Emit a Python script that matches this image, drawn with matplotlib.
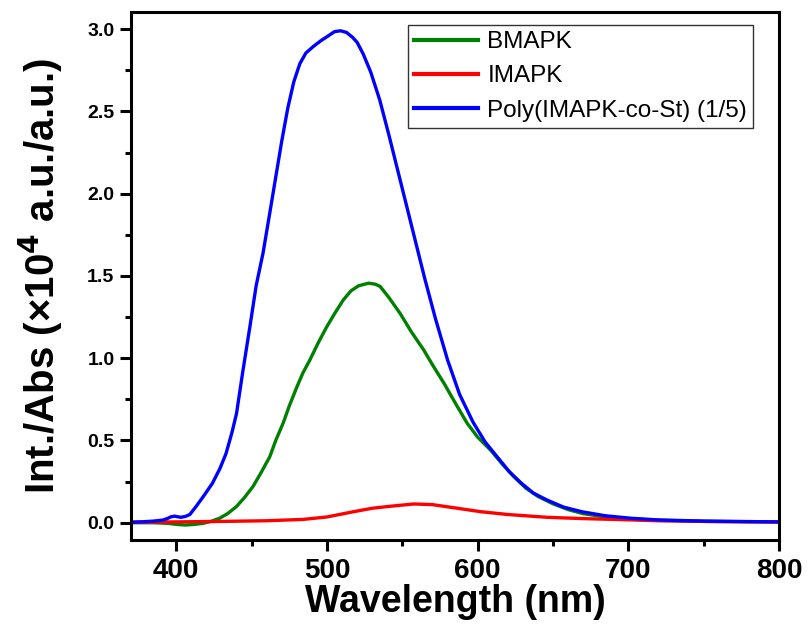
import matplotlib
matplotlib.use("Agg")
import matplotlib.pyplot as plt
from matplotlib.ticker import MultipleLocator, FormatStrFormatter

plt.rcParams['font.family'] = ['Liberation Sans', 'DejaVu Sans']

# Poly(IMAPK-co-St) (1/5)
blue_x = [370, 378, 385, 391, 394, 396.5, 399, 401, 403, 406, 409, 413, 418, 424, 429, 433, 437, 440,
          444, 449, 453, 457.6, 462, 466, 470, 474, 478, 482, 486, 491, 496, 501, 505, 509, 513,
          517, 520, 524, 529, 535, 541, 547, 553, 559, 565, 572, 580, 588, 597, 605, 613,
          621, 629, 637, 646, 657, 669, 685, 702, 720, 750, 800]
blue_y = [0.003, 0.006, 0.01, 0.016, 0.025, 0.036, 0.04, 0.036, 0.033, 0.038, 0.05, 0.097, 0.16, 0.24,
          0.33, 0.42, 0.55, 0.665, 0.91, 1.2, 1.44, 1.64, 1.88, 2.1, 2.32, 2.52, 2.68, 2.79, 2.855,
          2.895, 2.93, 2.96, 2.985, 2.99, 2.98, 2.95, 2.92, 2.85, 2.74, 2.57, 2.36, 2.14, 1.92, 1.70,
          1.48, 1.24, 0.99, 0.78, 0.61, 0.49, 0.40, 0.31, 0.24, 0.18, 0.138, 0.095, 0.067, 0.042,
          0.027, 0.017, 0.01, 0.005]

# BMAPK
green_x = [370, 385, 395, 400, 406, 412, 417.6, 423, 428.7, 434, 439.8, 445, 450.9, 456, 462, 466,
           470.9, 475, 479.8, 484, 488.7, 494, 499.8, 505, 510.9, 516, 521, 527.6, 532, 535.3, 541,
           548.7, 556, 564.2, 570, 577.5, 585, 593, 600, 608.7, 616, 624, 632, 640, 650, 660, 670,
           685, 700, 720, 750, 800]
green_y = [0.0, 0.0, -0.004, -0.01, -0.014, -0.01, -0.004, 0.008, 0.027, 0.055, 0.097, 0.15, 0.22,
           0.30, 0.40, 0.50, 0.605, 0.71, 0.82, 0.91, 0.99, 1.09, 1.19, 1.27, 1.355, 1.41, 1.44,
           1.456, 1.45, 1.436, 1.37, 1.27, 1.16, 1.05, 0.96, 0.85, 0.73, 0.605, 0.52, 0.44, 0.36,
           0.28, 0.21, 0.16, 0.115, 0.08, 0.055, 0.035, 0.025, 0.015, 0.008, 0.005]

# IMAPK
red_x = [370, 400, 430, 460, 484, 500, 517.6, 530, 542, 557.6, 570, 585, 602, 620, 646, 670, 691,
         720, 760, 800]
red_y = [0.003, 0.005, 0.008, 0.012, 0.02, 0.035, 0.067, 0.088, 0.1, 0.114, 0.11, 0.09, 0.067, 0.05,
         0.033, 0.025, 0.02, 0.012, 0.007, 0.005]

labels = ["BMAPK", "IMAPK", "Poly(IMAPK-co-St) (1/5)"]

fig = plt.figure(figsize=(8.09, 6.25), dpi=100)
ax = fig.add_axes([0.162, 0.136, 0.801, 0.845])

lw = 2.4
ax.plot(green_x, green_y, color='#008000', lw=lw, label=labels[0])
ax.plot(red_x, red_y, color='#ff0000', lw=lw, label=labels[1])
ax.plot(blue_x, blue_y, color='#0000ff', lw=lw, label=labels[2])

ax.set_xlim(370, 800)
ax.set_ylim(-0.105, 3.105)

ax.xaxis.set_major_locator(MultipleLocator(100))
ax.xaxis.set_minor_locator(MultipleLocator(50))
ax.yaxis.set_major_locator(MultipleLocator(0.5))
ax.yaxis.set_minor_locator(MultipleLocator(0.25))
ax.yaxis.set_major_formatter(FormatStrFormatter('%.1f'))

for s in ax.spines.values():
    s.set_linewidth(2.2)

ax.tick_params(which='major', direction='out', length=8, width=2.2)
ax.tick_params(which='minor', direction='out', length=4.5, width=2.2)
ax.tick_params(axis='x', which='major', labelsize=20, pad=5)
ax.tick_params(axis='y', which='major', labelsize=14, pad=4)
for t in ax.get_xticklabels() + ax.get_yticklabels():
    t.set_fontweight('bold')

ax.set_xlabel("Wavelength (nm)", fontsize=27, fontweight='bold', labelpad=0)
ax.set_ylabel("Int./Abs (×10$^{\\mathbf{4}}$ a.u./a.u.)", fontsize=29, fontweight='bold', labelpad=16)

leg = ax.legend(loc='upper right', bbox_to_anchor=(0.96, 0.975), fontsize=17.5, frameon=True,
                fancybox=False, edgecolor='black', handlelength=2.6, handletextpad=0.4,
                borderpad=0.25, labelspacing=0.5, borderaxespad=0)
leg.get_frame().set_linewidth(1.0)
for line in leg.get_lines():
    line.set_linewidth(3)

fig.savefig("out.png", dpi=100)
